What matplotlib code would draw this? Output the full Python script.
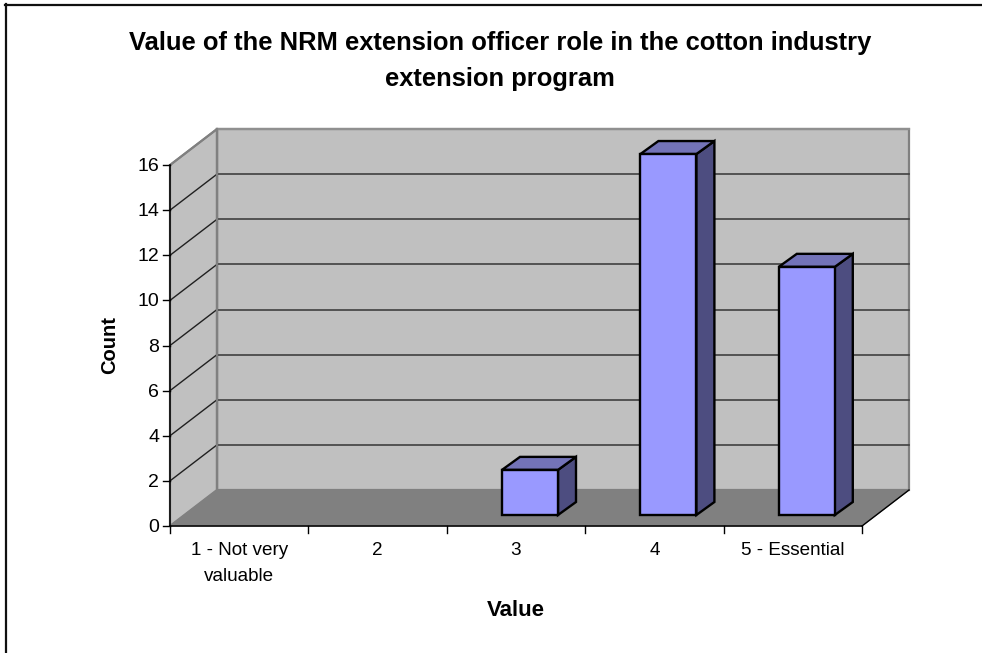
import matplotlib
matplotlib.use('Agg')
import matplotlib.pyplot as plt
from matplotlib.patches import Polygon, Rectangle

# Datos del grafico
categorias = ['1 - Not very\nvaluable', '2', '3', '4', '5 - Essential']
valores = [0, 0, 2, 16, 11]
ticks_y = [0, 2, 4, 6, 8, 10, 12, 14, 16]
titulo = 'Value of the NRM extension officer role in the cotton industry\nextension program'

plt.rcParams['font.family'] = ['Liberation Sans', 'DejaVu Sans']

W, H = 982, 653
fig = plt.figure(figsize=(W / 100, H / 100), dpi=100)

# Ejes en unidades de datos, alineados con los pixeles del grafico
px_cat = 138.4
px_val = 22.56
x_ini, y_ini = 170, 526
ax = fig.add_axes([0, 0, 1, 1])
ax.set_xlim(-x_ini / px_cat, (W - x_ini) / px_cat)
ax.set_ylim(-(H - y_ini) / px_val, y_ini / px_val)
ax.axis('off')

n = len(categorias)
vmax = ticks_y[-1]
dx = 47 / px_cat   # profundidad de la caja 3D
dy = 36 / px_val

px_x = 1 / px_cat
px_y = 1 / px_val
xmin, xmax = ax.get_xlim()
ymin, ymax = ax.get_ylim()

# Marco exterior: solo arriba e izquierda, el resto queda cortado
ax.plot([xmin + 5.5 * px_x, xmin + 5.5 * px_x], [ymin, ymax - 4 * px_y], color='#101010', lw=1.6, zorder=1)
ax.plot([xmin + 4.5 * px_x, xmax], [ymax - 4.5 * px_y, ymax - 4.5 * px_y], color='#101010', lw=1.6, zorder=1)

# Paredes y piso
ax.add_patch(Polygon([(dx, dy), (n + dx, dy), (n + dx, vmax + dy), (dx, vmax + dy)],
                     fc='#c0c0c0', ec='#808080', lw=1.6, zorder=1))
ax.add_patch(Polygon([(0, 0), (dx, dy), (dx, vmax + dy), (0, vmax)],
                     fc='#c0c0c0', ec='#808080', lw=1.6, zorder=1))
ax.add_patch(Polygon([(0, 0), (n, 0), (n + dx, dy), (dx, dy)],
                     fc='#808080', ec='#808080', lw=0.8, zorder=1))

# Lineas de la reticula
for v in ticks_y[1:-1]:
    ax.plot([0, dx], [v, v + dy], color='#202020', lw=1.0, zorder=2)
    ax.plot([dx, n + dx], [v + dy, v + dy], color='#404040', lw=1.2, zorder=2)
ax.plot([dx, dx], [dy, vmax + dy], color='#808080', lw=1.6, zorder=2)
ax.plot([dx, dx + n], [vmax + dy, vmax + dy], color='#909090', lw=1.6, zorder=2)
ax.plot([0, dx], [vmax, vmax + dy], color='#808080', lw=1.4, zorder=2)

# Barras
ancho = 56 / px_cat
desp_x, desp_y = 14 / px_cat, 11 / px_val
bx, by = 18 / px_cat, 13 / px_val
for i, v in enumerate(valores):
    if v == 0:
        continue
    x0 = i + 0.5 + desp_x - ancho / 2
    x1 = x0 + ancho
    y0 = desp_y
    y1 = y0 + v
    ax.add_patch(Polygon([(x1, y0), (x1 + bx, y0 + by), (x1 + bx, y1 + by), (x1, y1)],
                         fc='#4d4d80', ec='black', lw=1.7, zorder=3))
    ax.add_patch(Polygon([(x0, y1), (x1, y1), (x1 + bx, y1 + by), (x0 + bx, y1 + by)],
                         fc='#7373b8', ec='black', lw=1.7, zorder=3))
    ax.add_patch(Rectangle((x0, y0), ancho, v, fc='#9999ff', ec='black', lw=1.7, zorder=4))

# Ejes frontales
ax.plot([0, 0], [0, vmax], color='black', lw=1.1, zorder=5)
ax.plot([0, n], [0, 0], color='black', lw=1.1, zorder=5)
ax.plot([n, n + dx], [0, dy], color='black', lw=1.0, zorder=5)
for v in ticks_y:
    ax.plot([-7 * px_x, 0], [v, v], color='black', lw=1.0, zorder=5)
    ax.text(-11 * px_x, v - 1.5 * px_y, str(v), ha='right', va='center', fontsize=14, color='black')
for i in range(n + 1):
    ax.plot([i, i], [0, -7 * px_y], color='black', lw=1.0, zorder=5)
for i, c in enumerate(categorias):
    ax.text(i + 0.5, -16 * px_y, c, ha='center', va='top', fontsize=13.6,
            color='black', linespacing=1.7)

# Titulos
ax.text(n / 2 - 16 * px_x, (y_ini - 61) * px_y, titulo, ha='center', va='center',
        fontsize=18.4, fontweight='bold', linespacing=1.58)
ax.text(n / 2, -84 * px_y, 'Value', ha='center', va='center',
        fontsize=16, fontweight='bold')
ax.text(-60 * px_x, 8, 'Count', ha='center', va='center', rotation=90,
        fontsize=14.5, fontweight='bold')

fig.savefig('out.png', dpi=100)
